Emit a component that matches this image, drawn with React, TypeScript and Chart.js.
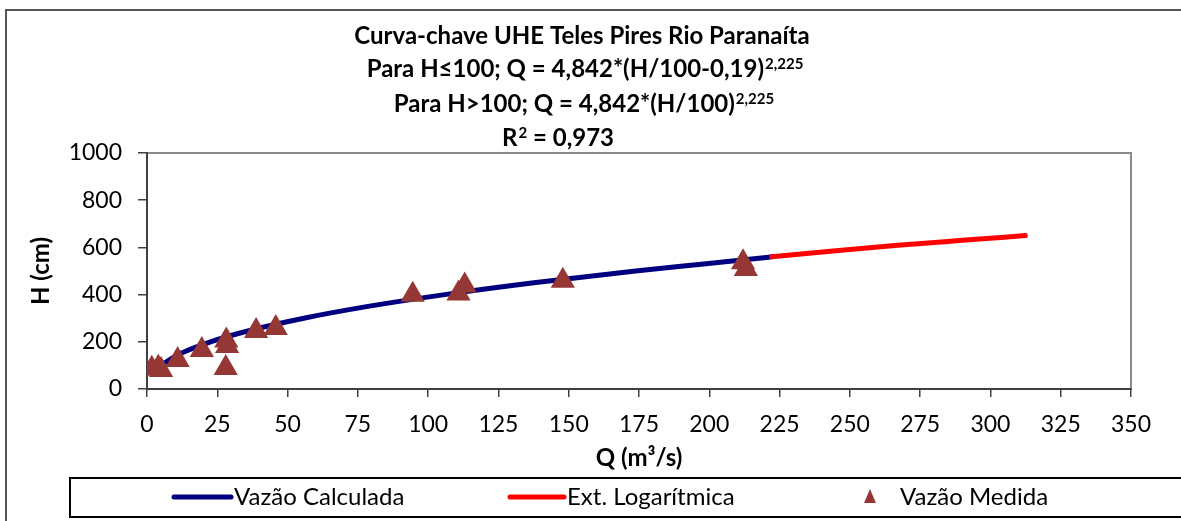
import React, { useEffect, useRef } from "react";
import { Chart, registerables } from "chart.js";
Chart.register(...registerables);

// Vazão Calculada (Q m³/s, H cm)
const qCalc = [4.8, 11.9, 22.6, 37.2, 55.8, 78.6, 105.9, 137.6, 173.8, 198, 222.2];
const hCalc = [100, 150, 200, 250, 300, 350, 400, 450, 500, 530, 560];
// Ext. Logarítmica
const qExt = [222.2, 245, 267, 290, 312.4];
const hExt = [560, 586, 609, 630, 650];
// Vazão Medida
const qMed = [1.7, 4.0, 5.0, 10.9, 19.5, 28.2, 28.5, 28.0, 38.8, 45.8, 94.5, 110.8, 113.0, 147.9, 212.0, 213.0];
const hMed = [86, 90, 80, 123, 165, 205, 182, 89, 246, 258, 399, 405, 439, 459, 537, 509];

const xTicksMax = 350;
const xStep = 25;
const yTicksMax = 1000;
const yStep = 200;

const titleLines: [string, string][] = [
  ["Curva-chave UHE Teles Pires Rio Paranaíta", ""],
  ["Para H≤100; Q = 4,842*(H/100-0,19)", "2,225"],
  ["Para H>100; Q = 4,842*(H/100)", "2,225"],
  ["R", "2"],
];
const titleTail = ["", "", "", " = 0,973"];
const xTitle = "Q (m³/s)";
const yTitle = "H (cm)";
const legendLabels = ["Vazão Calculada", "Ext. Logarítmica", "Vazão Medida"];

const BLUE = "#000080";
const RED = "#FF0000";
const BROWN = "#953735";
const FONT = "Lato";

const toXY = (xs: number[], ys: number[]) => xs.map((x, i) => ({ x, y: ys[i] }));

const decorPlugin = {
  id: "decor",
  beforeDraw(chart: any) {
    const ctx = chart.ctx as CanvasRenderingContext2D;
    const { left, top, right, bottom } = chart.chartArea;
    ctx.save();
    ctx.fillStyle = "#fff";
    ctx.fillRect(0, 0, chart.width, chart.height);
    ctx.strokeStyle = "#555";
    ctx.lineWidth = 2;
    ctx.strokeRect(6, 10, 1200, 560);
    ctx.strokeStyle = "#8a8a8a";
    ctx.lineWidth = 2;
    ctx.strokeRect(left, top, right - left, bottom - top);
    ctx.restore();
  },
  afterDraw(chart: any) {
    const ctx = chart.ctx as CanvasRenderingContext2D;
    const { left, right } = chart.chartArea;
    ctx.save();
    ctx.fillStyle = "#000";
    const baselines = [43.5, 77, 111.5, 146];
    const centers = [582, 585, 584, 558];
    const big = `bold 24px ${FONT}`;
    const small = `bold 15px ${FONT}`;
    titleLines.forEach(([main, sup], i) => {
      const tail = titleTail[i];
      ctx.font = big;
      const wMain = ctx.measureText(main).width;
      const wTail = ctx.measureText(tail).width;
      ctx.font = small;
      const wSup = sup ? ctx.measureText(sup).width + 1 : 0;
      const total = wMain + wSup + wTail;
      let x = centers[i] - total / 2;
      ctx.textAlign = "left";
      ctx.textBaseline = "alphabetic";
      ctx.font = big;
      ctx.fillText(main, x, baselines[i]);
      x += wMain;
      if (sup) {
        ctx.font = small;
        ctx.fillText(sup, x + 1, baselines[i] - 8);
        x += wSup;
      }
      if (tail) {
        ctx.font = big;
        ctx.fillText(tail, x, baselines[i]);
      }
    });
    ctx.font = `bold 24px ${FONT}`;
    ctx.textAlign = "center";
    ctx.textBaseline = "alphabetic";
    ctx.fillText(xTitle, (left + right) / 2, 466);
    ctx.save();
    ctx.translate(49, 271);
    ctx.rotate(-Math.PI / 2);
    ctx.fillText(yTitle, 0, 0);
    ctx.restore();
    // legend
    ctx.strokeStyle = "#000";
    ctx.lineWidth = 2;
    ctx.strokeRect(70, 478, 1130, 39);
    const ly = 497;
    ctx.lineCap = "round";
    ctx.lineWidth = 5;
    ctx.strokeStyle = BLUE;
    ctx.beginPath();
    ctx.moveTo(174, ly);
    ctx.lineTo(231, ly);
    ctx.stroke();
    ctx.strokeStyle = RED;
    ctx.beginPath();
    ctx.moveTo(510, ly);
    ctx.lineTo(564, ly);
    ctx.stroke();
    ctx.fillStyle = BROWN;
    ctx.beginPath();
    ctx.moveTo(870, ly - 8);
    ctx.lineTo(876, ly + 6);
    ctx.lineTo(864, ly + 6);
    ctx.closePath();
    ctx.fill();
    ctx.fillStyle = "#000";
    ctx.font = `24px ${FONT}`;
    ctx.textAlign = "left";
    ctx.textBaseline = "middle";
    ctx.fillText(legendLabels[0], 234, ly);
    ctx.fillText(legendLabels[1], 567, ly);
    ctx.fillText(legendLabels[2], 900, ly);
    ctx.restore();
  },
};

export default function App() {
  const ref = useRef<HTMLCanvasElement | null>(null);
  useEffect(() => {
    document.body.style.margin = "0";
    const canvas = ref.current!;
    const tickFont = { family: FONT, size: 23 };
    const chart = new Chart(canvas, {
      type: "scatter",
      data: {
        datasets: [
          {
            label: legendLabels[2],
            data: toXY(qMed, hMed),
            pointStyle: "triangle",
            pointRadius: 14,
            pointBackgroundColor: BROWN,
            pointBorderColor: BROWN,
            pointBorderWidth: 0,
            showLine: false,
            order: 0,
          },
          {
            label: legendLabels[1],
            data: toXY(qExt, hExt),
            showLine: true,
            borderColor: RED,
            borderWidth: 5,
            borderCapStyle: "round",
            borderJoinStyle: "round",
            pointRadius: 0,
            cubicInterpolationMode: "monotone",
            order: 1,
          },
          {
            label: legendLabels[0],
            data: toXY(qCalc, hCalc),
            showLine: true,
            borderColor: BLUE,
            borderWidth: 5,
            borderCapStyle: "round",
            borderJoinStyle: "round",
            pointRadius: 0,
            cubicInterpolationMode: "monotone",
            order: 2,
          },
        ],
      } as any,
      options: {
        responsive: false,
        animation: false,
        devicePixelRatio: 1,
        layout: { padding: { left: 0, top: 153, right: 50, bottom: 0 } },
        plugins: {
          legend: { display: false },
          title: { display: false },
          tooltip: { enabled: false },
        },
        scales: {
          x: {
            type: "linear",
            min: 0,
            max: xTicksMax,
            ticks: { stepSize: xStep, font: tickFont, color: "#000", padding: 14, callback: (v: any) => String(v) },
            grid: { drawOnChartArea: false, drawTicks: true, tickLength: 8, color: "#404040", lineWidth: 1.5 },
            border: { display: true, color: "#404040", width: 2 },
            afterFit: (s: any) => {
              s.height = 132;
            },
          },
          y: {
            min: 0,
            max: yTicksMax,
            ticks: { stepSize: yStep, font: tickFont, color: "#000", padding: 16, callback: (v: any) => String(v) },
            grid: { drawOnChartArea: false, drawTicks: true, tickLength: 9, color: "#404040", lineWidth: 1.5 },
            border: { display: true, color: "#404040", width: 2 },
            afterFit: (s: any) => {
              s.width = 147;
            },
          },
        },
      } as any,
      plugins: [decorPlugin],
    });
    return () => chart.destroy();
  }, []);
  return <canvas ref={ref} width={1181} height={521} style={{ display: "block" }} />;
}
